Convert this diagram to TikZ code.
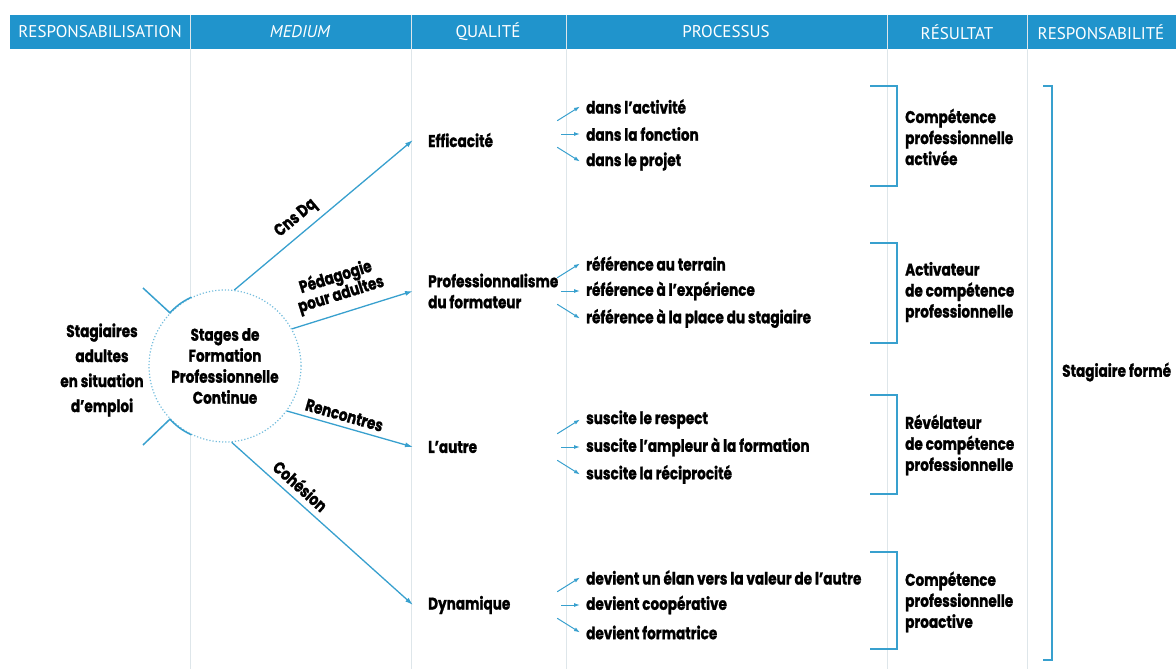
\documentclass[tikz,border=0pt]{standalone}
\usepackage{fontspec}
\usepackage{tikz}
\usetikzlibrary{arrows.meta}
\newfontfamily\corps{Poppins}[FakeStretch=0.8, BoldFont={Poppins Bold}, BoldFeatures={FakeBold=1.2}]
\newfontfamily\titre{PT Sans}
\definecolor{bleu}{RGB}{32,148,204}
\definecolor{filet}{RGB}{56,160,206}
\definecolor{grille}{RGB}{222,230,234}
\tikzset{
  entete/.style={font=\titre\fontsize{17}{20}\selectfont, text=white},
  texte/.style={font=\corps\bfseries\fontsize{17}{21}\selectfont, align=left, inner sep=0pt},
  qualite/.style={texte, anchor=west, inner xsep=15pt, inner ysep=2pt},
  proc/.style={texte, anchor=west, inner xsep=6pt},
  res/.style={texte, anchor=west},
  stage/.style={circle, draw=filet!70, dotted, line width=1.2pt, fill=white, minimum size=152pt,
    inner sep=0pt, align=center, font=\corps\bfseries\fontsize{17}{21}\selectfont},
  fleche/.style={filet, line width=1.3pt, -{Latex[length=8pt,width=5pt]}},
  petite/.style={filet, line width=1pt, -{Latex[length=6pt,width=4pt]}},
  lien/.style={font=\corps\bfseries\fontsize{17}{18}\selectfont, text=black, sloped, align=center, inner sep=2pt},
  crochet/.style={filet, line width=1.2pt},
  tick/.style={filet, line width=1.5pt}
}
\begin{document}
\begin{tikzpicture}[x=1pt,y=-1pt]
  \useasboundingbox (0,0) rectangle (1176,669);
  % bandeau et colonnes
  \fill[bleu] (10,15) rectangle (1176,49);
  \foreach \x in {190,411,566,887,1027}
  \draw[grille, line width=1pt] (\x,15) -- (\x,669);
  \node[entete] (h1) at (100,32) {RESPONSABILISATION};
  \node[entete] (h2) at (300,32) {\itshape MEDIUM};
  \node[entete] (h3) at (488,32) {QUALITÉ};
  \node[entete] (h4) at (726,32) {PROCESSUS};
  \node[entete] (h5) at (957,32) {RÉSULTAT};
  \node[entete] (h6) at (1101,32) {RESPONSABILITÉ};
  % medium
  \node[texte, align=center, font=\corps\bfseries\fontsize{17}{25}\selectfont] (stagiaires) at (102,370)
    {Stagiaires\\adultes\\en situation\\d’emploi};
  \node[stage] (stage) at (225,366) {Stages de\\Formation\\Professionnelle\\Continue};
  \coordinate (t1) at (143,288);
  \coordinate (t2) at (143,445);
  \draw[tick] (t1) -- (stage.136) to[bend left=10] (stage.116);
  \draw[tick] (t2) -- (stage.224) to[bend right=10] (stage.244);
  % qualite
  \node[qualite] (q1) at (413,140) {Efficacité};
  \node[qualite] (q2) at (413,291) {Professionnalisme\\du formateur};
  \node[qualite] (q3) at (413,447) {L’autre};
  \node[qualite] (q4) at (413,605) {Dynamique};
  \draw[fleche] (stage.83) -- node[lien, pos=.4, above=4pt] {Cns Dq} (q1.west);
  \draw[fleche] (stage.29) -- node[lien, pos=.45, above=6pt] {Pédagogie\\pour adultes} (q2.west);
  \draw[fleche] (stage.-36) -- node[lien, pos=.43, above=3pt] {Rencontres} (q3.west);
  \draw[fleche] (stage.-85) -- node[lien, pos=.33, above=4pt] {Cohésion} (q4.west);
  % processus
  \foreach \m/\a/\b/\c [count=\r] in {
    134/dans l’activité/dans la fonction/dans le projet,
    291/référence au terrain/référence à l’expérience/référence à la place du stagiaire,
    447/suscite le respect/suscite l’ampleur à la formation/suscite la réciprocité,
    605/devient un élan vers la valeur de l’autre/devient coopérative/devient formatrice} {
    \coordinate (f\r) at (536,\m);
    \node[proc] (p\r1) at (580,\m-27.5) {\a};
    \node[proc] (p\r2) at (580,\m) {\b};
    \node[proc] (p\r3) at (580,\m+27.5) {\c};
    \foreach \p in {1,2,3}
    \draw[petite, shorten <=25pt] (f\r) -- (p\r\p.west);
  }
  % resultat
  \node[res] (r1) at (905,137) {Compétence\\professionnelle\\activée};
  \node[res] (r2) at (905,292) {Activateur\\de compétence\\professionnelle};
  \node[res] (r3) at (905,445) {Révélateur\\de compétence\\professionnelle};
  \node[res] (r4) at (905,602) {Compétence\\professionnelle\\proactive};
  \foreach \h/\b in {86/186,243/343,395/494,552/649}
  \draw[crochet] (870,\h) -- (897,\h) -- (897,\b) -- (870,\b);
  % responsabilite
  \draw[crochet] (1043,86) -- (1052,86) -- (1052,660) -- (1043,660);
  \node[res] (forme) at (1062,372) {Stagiaire formé};
\end{tikzpicture}
\end{document}
